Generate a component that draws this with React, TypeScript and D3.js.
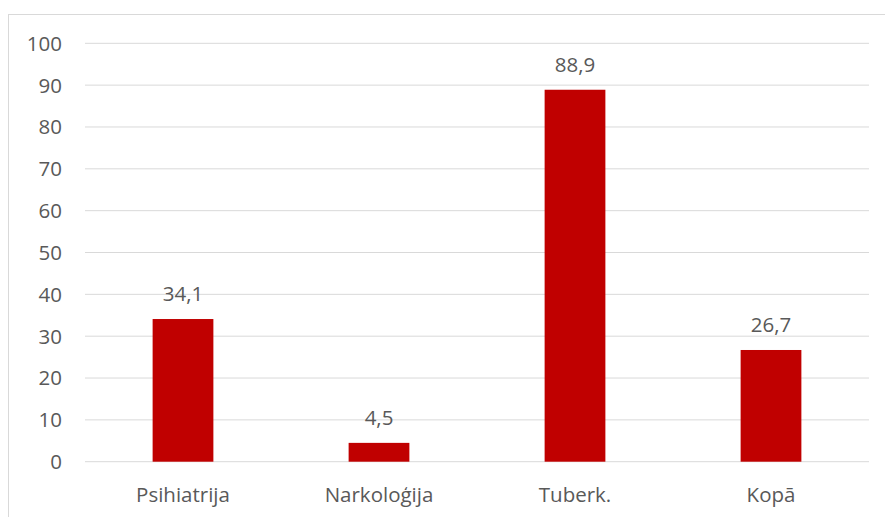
import React from "react";
import * as d3 from "d3";

const categories = ["Psihiatrija", "Narkoloģija", "Tuberk.", "Kopā"];
const values = [34.1, 4.5, 88.9, 26.7];
const valueLabels = ["34,1", "4,5", "88,9", "26,7"];
const yTicks = [0, 10, 20, 30, 40, 50, 60, 70, 80, 90, 100];

export default function App() {
  const W = 885, H = 517;
  const x0 = 85, x1 = 869, yTop = 43.3, yBot = 461.7;
  const x = d3.scaleBand<string>().domain(categories).range([x0, x1]).padding(0);
  const y = d3.scaleLinear().domain([0, 100]).range([yBot, yTop]);
  const barW = x.bandwidth() * 0.31;
  const font = "'Open Sans', sans-serif";
  const txt = "#595959";
  return (
    <svg width={W} height={H} style={{ position: "absolute", left: 0, top: 0 }}>
      <rect x={0} y={0} width={W} height={H} fill="#fff" />
      <rect x={8.5} y={14.5} width={W + 10} height={H + 10} fill="none" stroke="#D9D9D9" strokeWidth={1} />
      {yTicks.map((t) => (
        <g key={t}>
          <line x1={x0} x2={x1} y1={y(t)} y2={y(t)} stroke="#D9D9D9" strokeWidth={1} />
          <text x={62} y={y(t)} dy="0.36em" textAnchor="end" fontFamily={font} fontSize={20.5} fill={txt}>
            {t}
          </text>
        </g>
      ))}
      {categories.map((c, i) => {
        const cx = (x(c) as number) + x.bandwidth() / 2;
        return (
          <g key={c}>
            <rect x={cx - barW / 2} y={y(values[i])} width={barW} height={yBot - y(values[i])} fill="#C00000" />
            <text x={cx} y={y(values[i]) - 18} textAnchor="middle" fontFamily={font} fontSize={20.5} fill={txt}>
              {valueLabels[i]}
            </text>
            <text x={cx} y={501.5} textAnchor="middle" fontFamily={font} fontSize={20.5} fill={txt}>
              {c}
            </text>
          </g>
        );
      })}
    </svg>
  );
}
